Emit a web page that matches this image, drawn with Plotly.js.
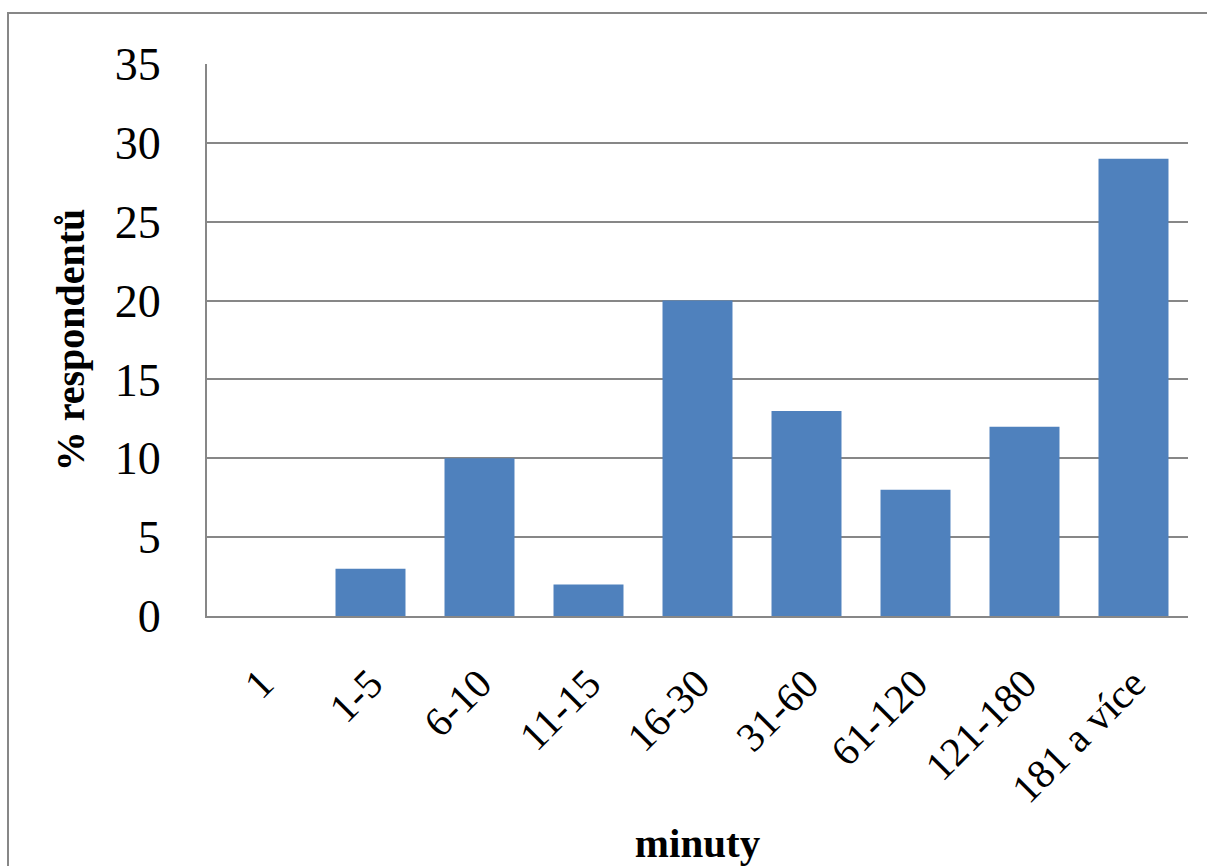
<!DOCTYPE html>
<html>
<head>
<meta charset="utf-8">
<script src="https://cdn.plot.ly/plotly-3.0.1.min.js"></script>
<style>
  html, body { margin: 0; padding: 0; overflow: hidden; background: #ffffff; }
  #chart { position: absolute; left: 0; top: 0; width: 1207px; height: 866px; }
  #frame {
    position: absolute; left: 7px; top: 12px; width: 1400px; height: 1000px;
    border: 2px solid #878787; pointer-events: none; box-sizing: border-box;
  }
</style>
</head>
<body>
<div id="chart"></div>
<div id="frame"></div>
<script>
// Time spent (minutes) and share of respondents in each band
const categories = ['1', '1-5', '6-10', '11-15', '16-30', '31-60', '61-120', '121-180', '181 a více'];
const percentRespondents = [0, 3, 10, 2, 20, 13, 8, 12, 29];
const yTicks = [0, 5, 10, 15, 20, 25, 30, 35];

const serif = 'Liberation Serif, Times New Roman, serif';
const gridGrey = '#878787';

const trace = {
  type: 'bar',
  x: categories,
  y: percentRespondents,
  marker: { color: '#4f81bd' },
  hoverinfo: 'x+y'
};

const layout = {
  width: 1207,
  height: 866,
  margin: { l: 207, r: 19, t: 64, b: 250 },
  paper_bgcolor: 'rgba(0,0,0,0)',
  plot_bgcolor: '#ffffff',
  bargap: 0.358,
  showlegend: false,
  font: { family: serif, color: '#000000' },
  xaxis: {
    type: 'category',
    tickangle: -45,
    tickfont: { family: serif, size: 41, color: '#000000' },
    showline: true,
    linecolor: gridGrey,
    linewidth: 2,
    ticks: '',
    ticklabelstandoff: 25,
    showgrid: false,
    zeroline: false,
    title: {
      text: 'minuty',
      font: { family: serif, size: 41, color: '#000000', weight: 'bold' },
      standoff: 20
    }
  },
  yaxis: {
    range: [0, 35],
    tickvals: yTicks,
    ticktext: yTicks.map(String),
    tickfont: { family: serif, size: 46, color: '#000000' },
    showline: true,
    linecolor: gridGrey,
    linewidth: 2,
    ticks: '',
    ticklabelstandoff: 35,
    showgrid: true,
    gridcolor: gridGrey,
    gridwidth: 2,
    zeroline: false,
    title: {
      text: '% respondentů',
      font: { family: serif, size: 40, color: '#000000', weight: 'bold' },
      standoff: 18
    }
  }
};

Plotly.newPlot('chart', [trace], layout, { displayModeBar: false, staticPlot: true });
</script>
</body>
</html>
